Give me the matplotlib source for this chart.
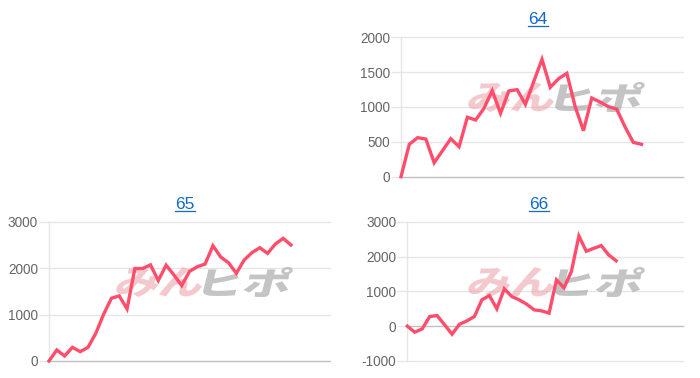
import numpy as np
import matplotlib
matplotlib.use("Agg")
import matplotlib.pyplot as plt
from matplotlib.textpath import TextPath
from matplotlib.font_manager import FontProperties
from matplotlib.patches import PathPatch
from matplotlib.transforms import Affine2D, IdentityTransform
from matplotlib.lines import Line2D

# ---- data ----
titles = ["64", "65", "66"]
values_64 = [0, 464, 560, 540, 200, 373, 545, 430, 852, 813, 981, 1234, 909, 1230, 1249,
             1038, 1364, 1684, 1282, 1407, 1483, 1005, 660, 1129, 1072, 1005, 971, 718, 493, 464]
values_65 = [0, 237, 108, 295, 201, 295, 597, 1007, 1352, 1402, 1122, 1992, 1992, 2070, 1733,
             2063, 1855, 1625, 1930, 2031, 2088, 2483, 2239, 2117, 1888, 2175, 2333, 2440, 2318,
             2519, 2641, 2498]
values_66 = [0, -172, -77, 277, 306, 38, -230, 57, 153, 277, 756, 880, 498, 1072, 852, 756,
             632, 469, 440, 373, 1330, 1100, 1570, 2590, 2150, 2237, 2313, 2046, 1878]
n_labels = [35, 37, 38]
y_ranges = [(0, 2000), (0, 3000), (-1000, 3000)]
y_ticks = [[0, 500, 1000, 1500, 2000], [0, 1000, 2000, 3000], [-1000, 0, 1000, 2000, 3000]]
series = [values_64, values_65, values_66]

W, H = 700, 378
fig = plt.figure(figsize=(W / 100, H / 100), dpi=100)

# pixel layout: (left, right, top, bottom), title center x, title baseline y, watermark x
layout = [
    (401, 683, 37.3, 176.7, 538, 24.0, 470),
    (49, 330, 221.7, 361, 185, 209.0, 118),
    (407.3, 683.3, 221.7, 361, 539, 209.0, 470),
]
wm_top_rel = [82, 267, 267]

LINE = "#ff4d6b"
GRID = "#e6e6e6"
ZERO = "#c0c0c0"
TICK = "#666666"
TITLE = "#1468c8"
FONT = "Liberation Sans"

wm_font = FontProperties(family="Noto Sans CJK JP", weight="black")


def watermark(ax, text, x0, y0_top, w, h, color, alpha):
    tp = TextPath((0, 0), text, size=40, prop=wm_font)
    ext = tp.get_extents()
    sx = w / ext.width
    sy = h / ext.height
    tr = (Affine2D().translate(-ext.x0, -ext.y0).scale(sx, sy).skew_deg(14, 0)
          .translate(x0 - h * np.tan(np.radians(14)) * 0.5, H - (y0_top + h)))
    patch = PathPatch(tr.transform_path(tp), transform=IdentityTransform(),
                      facecolor=color, edgecolor="none", alpha=alpha, zorder=1.5,
                      clip_on=False)
    ax.add_artist(patch)


title_texts = []
for i, (vals, (l, r, t, b, tx, tby, wmx)) in enumerate(zip(series, layout)):
    ax = fig.add_axes([l / W, 1 - b / H, (r - l) / W, (b - t) / H])
    x = np.arange(len(vals))
    ax.set_xlim(0, n_labels[i] - 1)
    ax.set_ylim(*y_ranges[i])
    ax.set_yticks(y_ticks[i])
    ax.set_yticklabels([str(v) for v in y_ticks[i]], fontfamily=FONT, fontsize=9.8, color=TICK)
    ax.set_xticks([])
    for s in ["top", "right", "bottom"]:
        ax.spines[s].set_visible(False)
    ax.spines["left"].set_color(GRID)
    ax.spines["left"].set_linewidth(1)
    ax.tick_params(axis="y", length=7, width=1, color=GRID, pad=1)
    for v in y_ticks[i]:
        ax.axhline(v, color=ZERO if v == 0 else GRID, lw=1, zorder=0.5, clip_on=False)
    ax.plot(x, vals, color=LINE, lw=2.4, solid_joinstyle="miter", zorder=3, clip_on=False)
    ax.set_facecolor("none")

    wt = wm_top_rel[i]
    watermark(ax, "みん", wmx, wt, 85, 30, "#eba5ac", 0.6)
    watermark(ax, "ヒポ", wmx + 87, wt, 85, 30, "#ababab", 0.7)

    txt = fig.text(tx / W, 1 - tby / H, titles[i], ha="center", va="baseline",
                   fontfamily=FONT, fontsize=12.5, color=TITLE)
    title_texts.append(txt)

fig.canvas.draw()
renderer = fig.canvas.get_renderer()
for txt in title_texts:
    bb = txt.get_window_extent(renderer)
    yline = (bb.y0 + 1) / H
    fig.add_artist(Line2D([bb.x0 / W, bb.x1 / W], [yline, yline],
                          transform=fig.transFigure, color=TITLE, lw=0.9))

fig.savefig("out.png", dpi=100)
